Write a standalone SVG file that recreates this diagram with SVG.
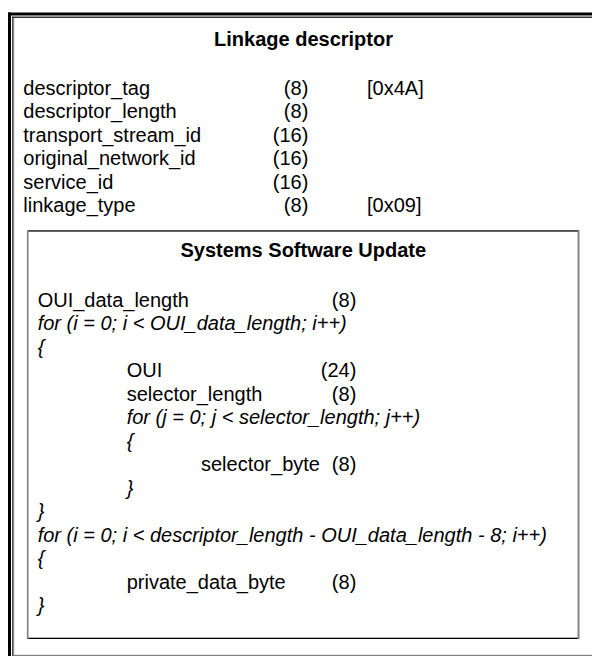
<svg xmlns="http://www.w3.org/2000/svg" width="592" height="656" viewBox="0 0 592 656">
  <style>
    text { font-family: "Liberation Sans", Arial, sans-serif; font-size: 20px; fill: #000; }
    .title { font-weight: bold; text-anchor: middle; }
    .it { font-style: italic; }
    .num { text-anchor: end; }
  </style>
  <rect x="0" y="0" width="592" height="656" fill="#fff"/>

  <!-- Linkage descriptor: outer framed table -->
  <g id="linkage-descriptor">
    <!-- heavy outer border (top, left) -->
    <rect x="8" y="12.5" width="584" height="3" fill="#000"/>
    <rect x="8" y="12.5" width="3" height="643.5" fill="#000"/>
    <!-- thin inner border -->
    <rect x="12.3" y="16.6" width="579.7" height="1.2" fill="#000"/>
    <rect x="12.3" y="16.6" width="1" height="639.4" fill="#000"/>
    <rect x="13.3" y="17.8" width="0.9" height="638.2" fill="#808080"/>
    <rect x="13.3" y="654.8" width="578.7" height="1.2" fill="#808080"/>

    <text class="title" x="303.5" y="46">Linkage descriptor</text>

    <text x="23.3" y="94.5">descriptor_tag</text>
    <text class="num" x="308.3" y="94.5">(8)</text>
    <text x="367" y="94.5">[0x4A]</text>

    <text x="23.3" y="118">descriptor_length</text>
    <text class="num" x="308.3" y="118">(8)</text>

    <text x="23.3" y="141.5">transport_stream_id</text>
    <text class="num" x="308.3" y="141.5">(16)</text>

    <text x="23.3" y="165">original_network_id</text>
    <text class="num" x="308.3" y="165">(16)</text>

    <text x="23.3" y="188.5">service_id</text>
    <text class="num" x="308.3" y="188.5">(16)</text>

    <text x="23.3" y="212">linkage_type</text>
    <text class="num" x="308.3" y="212">(8)</text>
    <text x="367" y="212">[0x09]</text>
  </g>

  <!-- Systems Software Update: nested table -->
  <g id="systems-software-update">
    <rect x="27.7" y="230.3" width="551" height="1.3" fill="#000"/>
    <rect x="27.7" y="637.7" width="550.6" height="1.3" fill="#000"/>
    <rect x="26.9" y="230.3" width="1.6" height="408.7" fill="#808080"/>
    <rect x="577.6" y="230.3" width="1.9" height="408.7" fill="#808080"/>

    <text class="title" x="303.3" y="256.7">Systems Software Update</text>

    <text x="37.7" y="306.5">OUI_data_length</text>
    <text class="num" x="356.3" y="306.5">(8)</text>
    <text class="it" x="37.7" y="330">for (i = 0; i &lt; OUI_data_length; i++)</text>
    <text class="it" x="37.7" y="353.5">{</text>
    <text x="126.7" y="377">OUI</text>
    <text class="num" x="356.3" y="377">(24)</text>
    <text x="126.7" y="400.5">selector_length</text>
    <text class="num" x="356.3" y="400.5">(8)</text>
    <text class="it" x="126.7" y="424">for (j = 0; j &lt; selector_length; j++)</text>
    <text class="it" x="126.7" y="447.5">{</text>
    <text x="201" y="471">selector_byte</text>
    <text class="num" x="356.3" y="471">(8)</text>
    <text class="it" x="126.7" y="494.5">}</text>
    <text class="it" x="37.7" y="518">}</text>
    <text class="it" x="37.7" y="541.5">for (i = 0; i &lt; descriptor_length - OUI_data_length - 8; i++)</text>
    <text class="it" x="37.7" y="565">{</text>
    <text x="126.7" y="588.5">private_data_byte</text>
    <text class="num" x="356.3" y="588.5">(8)</text>
    <text class="it" x="37.7" y="612">}</text>
  </g>
</svg>
